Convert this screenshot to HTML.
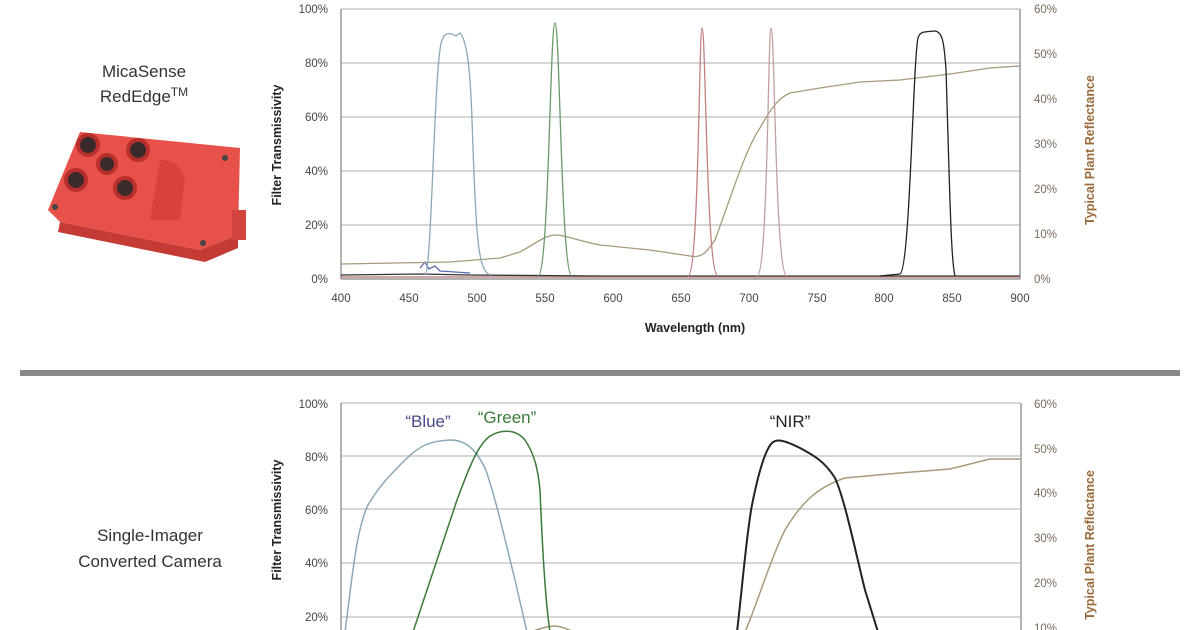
<!DOCTYPE html>
<html><head><meta charset="utf-8"><style>
html,body{margin:0;padding:0;background:#fff}
svg{display:block;font-family:"Liberation Sans",sans-serif}
</style></head><body>
<svg width="1200" height="630" viewBox="0 0 1200 630" xmlns="http://www.w3.org/2000/svg">
<rect width="1200" height="630" fill="#fff"/>
<text x="144" y="77" font-size="17" fill="#333" text-anchor="middle">MicaSense</text>
<text x="144" y="102" font-size="17" fill="#333" text-anchor="middle">RedEdge<tspan font-size="12" dy="-6">TM</tspan></text>
<text x="150" y="541" font-size="17" fill="#333" text-anchor="middle">Single-Imager</text>
<text x="150" y="567" font-size="17" fill="#333" text-anchor="middle">Converted Camera</text>
<g>
<polygon points="80,132 240,148 238,235 200,250 60,222 48,210" fill="#e8504a"/>
<polygon points="60,222 200,250 238,235 238,248 205,262 58,232" fill="#c43a35"/>
<rect x="232" y="210" width="14" height="30" fill="#d4443f"/>
<path d="M160,160 q20,0 25,20 l-5,40 l-30,0z" fill="#d9413c"/>
<circle cx="88" cy="145" r="10" fill="#3a2a2a" stroke="#b8302c" stroke-width="4"/>
<circle cx="138" cy="150" r="10" fill="#3a2a2a" stroke="#b8302c" stroke-width="4"/>
<circle cx="107" cy="164" r="9" fill="#3a2a2a" stroke="#b8302c" stroke-width="4"/>
<circle cx="76" cy="180" r="10" fill="#3a2a2a" stroke="#b8302c" stroke-width="4"/>
<circle cx="125" cy="188" r="10" fill="#3a2a2a" stroke="#b8302c" stroke-width="4"/>
<circle cx="225" cy="158" r="3" fill="#444"/><circle cx="55" cy="207" r="3" fill="#444"/><circle cx="203" cy="243" r="3" fill="#444"/>
</g>
<rect x="20" y="370" width="1160" height="6" fill="#8a8a8a"/>

<g stroke="#c8c8c8" stroke-width="1.5">
<line x1="341" y1="9" x2="1020" y2="9"/><line x1="341" y1="63" x2="1020" y2="63"/>
<line x1="341" y1="117" x2="1020" y2="117"/><line x1="341" y1="171" x2="1020" y2="171"/>
<line x1="341" y1="225" x2="1020" y2="225"/>
</g>
<g stroke="#9a9a9a" stroke-width="1.5">
<line x1="341" y1="9" x2="341" y2="279"/><line x1="1020" y1="9" x2="1020" y2="279"/>
<line x1="341" y1="279" x2="1020" y2="279"/>
</g>
<g font-size="11.5" fill="#444" text-anchor="end">
<text x="328" y="13">100%</text><text x="328" y="67">80%</text><text x="328" y="121">60%</text>
<text x="328" y="175">40%</text><text x="328" y="229">20%</text><text x="328" y="283">0%</text>
</g>
<g font-size="11.5" fill="#7a6a5a">
<text x="1034" y="13">60%</text><text x="1034" y="58">50%</text><text x="1034" y="103">40%</text>
<text x="1034" y="148">30%</text><text x="1034" y="193">20%</text><text x="1034" y="238">10%</text><text x="1034" y="283">0%</text>
</g>
<g font-size="11.5" fill="#444" text-anchor="middle">
<text x="341" y="302">400</text><text x="409" y="302">450</text><text x="477" y="302">500</text>
<text x="545" y="302">550</text><text x="613" y="302">600</text><text x="681" y="302">650</text>
<text x="749" y="302">700</text><text x="817" y="302">750</text><text x="884" y="302">800</text>
<text x="952" y="302">850</text><text x="1020" y="302">900</text>
</g>
<text x="695" y="332" font-size="12.5" font-weight="bold" fill="#222" text-anchor="middle">Wavelength (nm)</text>
<text transform="translate(281,145) rotate(-90)" font-size="12.5" font-weight="bold" fill="#222" text-anchor="middle">Filter Transmissivity</text>
<text transform="translate(1094,150) rotate(-90)" font-size="12.5" font-weight="bold" fill="#9a6a3a" text-anchor="middle">Typical Plant Reflectance</text>
<g fill="none" stroke-width="1.3">
<path d="M341,275 L420,274 L470,275 L600,276 L800,276 L1020,276" stroke="#333"/>
<path d="M341,277 L700,277 L1020,277" stroke="#b07070"/>
<path d="M420,268 l5,-6 l4,7 l6,-3 l5,5 L470,273" stroke="#5a6ab0"/>
<path d="M341,264 L450,262 L500,258 L520,252 C535,244 545,235 556,235 C565,235 575,240 600,245 L650,250 L690,256 C700,258 705,255 715,240 C730,200 745,150 760,128 C770,110 778,98 790,93 L820,88 L860,82 L900,80 L950,74 L990,68 L1020,66" stroke="#a89a7a"/>
<path d="M425,275 C432,272 434,60 442,40 C446,30 452,34 456,36 L460,33 C466,40 470,60 472,120 C476,240 478,270 490,275" stroke="#8aa8b8"/>
<path d="M538,276 C549,276 550,23 555,23 C560,23 561,276 572,276" stroke="#6a9a6a"/>
<path d="M688,276 C699,276 699,28 702,28 C706,28 706,276 718,276" stroke="#c08080"/>
<path d="M757,276 C768,276 768,28 771,28 C775,28 775,276 787,276" stroke="#c0a0a0"/>
<path d="M880,276 L900,274 C910,270 913,60 918,38 C920,31 924,32 935,31 C942,32 944,40 946,70 C950,200 951,260 955,276" stroke="#222"/>
</g>

<g stroke="#c8c8c8" stroke-width="1.5">
<line x1="341" y1="403" x2="1020" y2="403"/><line x1="341" y1="456" x2="1020" y2="456"/>
<line x1="341" y1="509" x2="1020" y2="509"/><line x1="341" y1="563" x2="1020" y2="563"/>
<line x1="341" y1="617" x2="1020" y2="617"/>
</g>
<g stroke="#9a9a9a" stroke-width="1.5">
<line x1="341" y1="403" x2="341" y2="630"/><line x1="1021" y1="403" x2="1021" y2="630"/>
</g>
<g font-size="11.5" fill="#444" text-anchor="end">
<text x="328" y="408">100%</text><text x="328" y="461">80%</text><text x="328" y="514">60%</text>
<text x="328" y="567">40%</text><text x="328" y="621">20%</text>
</g>
<g font-size="11.5" fill="#7a6a5a">
<text x="1034" y="408">60%</text><text x="1034" y="453">50%</text><text x="1034" y="497">40%</text>
<text x="1034" y="542">30%</text><text x="1034" y="587">20%</text><text x="1034" y="632">10%</text>
</g>
<text transform="translate(281,520) rotate(-90)" font-size="12.5" font-weight="bold" fill="#222" text-anchor="middle">Filter Transmissivity</text>
<text transform="translate(1094,545) rotate(-90)" font-size="12.5" font-weight="bold" fill="#9a6a3a" text-anchor="middle">Typical Plant Reflectance</text>
<text x="428" y="427" font-size="17" fill="#4a4a8a" text-anchor="middle">“Blue”</text>
<text x="507" y="423" font-size="17" fill="#3a7a3a" text-anchor="middle">“Green”</text>
<text x="790" y="427" font-size="17" fill="#222" text-anchor="middle">“NIR”</text>
<g fill="none" stroke-width="1.5">
<path d="M530,632 C545,627 550,626 555,626 C562,626 568,630 575,632" stroke="#a89a7a"/>
<path d="M745,632 C755,610 770,560 785,530 C800,505 815,488 845,478 L900,473 L950,469 L990,459 L1020,459" stroke="#a89a7a"/>
<path d="M345,632 C352,580 356,530 368,505 C380,485 390,475 405,460 C420,445 430,441 450,440 C465,440 475,448 485,468 C495,495 505,540 515,580 L527,632" stroke="#8aa8b8"/>
<path d="M413,632 C430,580 445,535 457,500 C470,465 478,445 490,436 C500,430 515,428 525,440 C535,455 538,470 540,490 C542,540 545,600 550,632" stroke="#3a7a3a"/>
<path d="M737,632 C743,580 747,530 752,505 C758,475 765,450 772,443 C776,439 782,439 800,448 C815,456 825,462 835,478 C845,500 855,550 865,590 L878,632" stroke="#222" stroke-width="2"/>
</g>
</svg>
</body></html>
